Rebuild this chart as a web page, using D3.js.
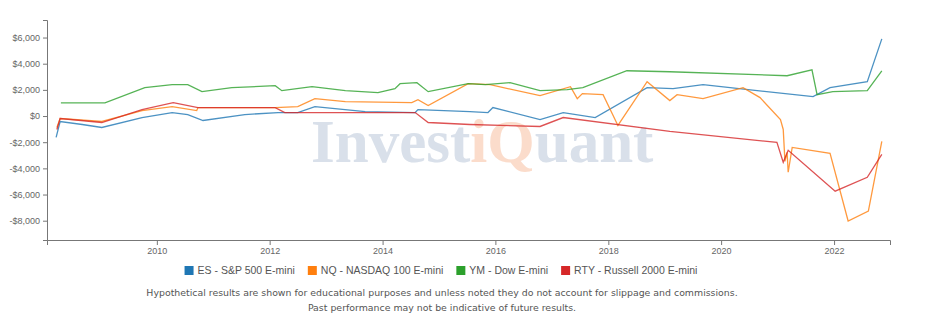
<!DOCTYPE html>
<html>
<head>
<meta charset="utf-8">
<script src="https://cdn.jsdelivr.net/npm/d3@7"></script>
<style>
  body { margin: 0; background: #fff; }
  svg text { font-family: "Liberation Sans", Arial, sans-serif; }
</style>
</head>
<body>
<script>
// series values: [date, P&L in dollars]
const esData = [
  ['2008-03-20', -1635], ['2008-04-15', -418], ['2008-09-05', -646], ['2009-01-10', -875],
  ['2009-09-27', -114], ['2010-04-10', 266], ['2010-07-20', 114], ['2010-10-27', -342],
  ['2011-07-24', 114], ['2012-02-24', 266], ['2012-07-01', 266], ['2012-10-20', 722],
  ['2013-09-10', 342], ['2014-07-31', 266], ['2014-08-18', 494], ['2015-07-20', 342],
  ['2015-11-14', 266], ['2015-12-16', 646], ['2016-10-16', -266], ['2017-03-15', 266],
  ['2017-10-08', -114], ['2018-09-09', 2167], ['2019-02-24', 2091], ['2019-09-06', 2396],
  ['2021-08-18', 1483], ['2021-12-06', 2167], ['2022-08-04', 2624], ['2022-11-06', 5900]
];
const nqData = [
  ['2008-03-25', -875], ['2008-04-15', -190], ['2009-01-10', -418], ['2009-09-27', 418],
  ['2010-04-10', 722], ['2010-09-16', 418], ['2010-09-24', 646], ['2012-02-06', 646],
  ['2012-07-01', 722], ['2012-10-20', 1331], ['2013-05-05', 1103], ['2014-07-09', 1027],
  ['2014-08-18', 1255], ['2014-10-23', 798], ['2015-07-09', 2472], ['2015-11-28', 2396],
  ['2016-10-16', 1559], ['2017-05-01', 2243], ['2017-06-14', 1331], ['2017-07-17', 1711],
  ['2017-11-28', 1635], ['2018-03-04', -722], ['2018-09-09', 2624], ['2019-02-03', 1179],
  ['2019-03-22', 1635], ['2019-09-06', 1331], ['2020-05-22', 2167], ['2020-09-09', 1407],
  ['2021-01-19', -266], ['2021-02-06', -1027], ['2021-02-17', -3460], ['2021-03-03', -2776],
  ['2021-03-10', -4297], ['2021-04-05', -2396], ['2021-12-06', -2852], ['2022-04-02', -8023],
  ['2022-08-11', -7263], ['2022-11-06', -1939]
];
const ymData = [
  ['2008-04-20', 1000], ['2009-01-30', 1000], ['2009-10-15', 2167], ['2010-04-10', 2396],
  ['2010-07-20', 2396], ['2010-10-20', 1863], ['2011-05-01', 2167], ['2012-02-06', 2320],
  ['2012-03-20', 1939], ['2012-10-01', 2243], ['2013-05-05', 1939], ['2013-12-02', 1787],
  ['2014-03-22', 2091], ['2014-04-24', 2472], ['2014-08-11', 2548], ['2014-10-23', 1863],
  ['2015-07-09', 2472], ['2015-10-27', 2396], ['2016-04-05', 2548], ['2016-10-16', 1939],
  ['2017-04-10', 2015], ['2017-07-20', 2167], ['2018-05-01', 3460], ['2019-02-03', 3384],
  ['2021-03-03', 3080], ['2021-08-11', 3536], ['2021-09-13', 1635], ['2021-12-24', 1863],
  ['2022-08-04', 1939], ['2022-11-06', 3460]
];
const rtyData = [
  ['2008-03-25', -1027], ['2008-04-15', -190], ['2009-01-10', -494], ['2009-09-27', 494],
  ['2010-04-17', 1027], ['2010-09-24', 646], ['2012-02-06', 646], ['2012-04-08', 266],
  ['2014-07-31', 266], ['2014-10-23', -494], ['2015-07-20', -646], ['2016-10-16', -798],
  ['2017-03-15', -114], ['2019-02-03', -1179], ['2020-12-27', -2015], ['2021-02-06', -3536],
  ['2021-03-10', -2624], ['2022-01-08', -5742], ['2022-08-04', -4677], ['2022-11-06', -2928]
];

const seriesNames = ['ES - S&P 500 E-mini', 'NQ - NASDAQ 100 E-mini', 'YM - Dow E-mini', 'RTY - Russell 2000 E-mini'];
const seriesColors = ['#1f77b4', '#ff7f0e', '#2ca02c', '#d62728'];
const yTicks = [-8000, -6000, -4000, -2000, 0, 2000, 4000, 6000];
const xTickYears = [2010, 2012, 2014, 2016, 2018, 2020, 2022];
const disclaimer = [
  'Hypothetical results are shown for educational purposes and unless noted they do not account for slippage and commissions.',
  'Past performance may not be indicative of future results.'
];

let width = 934, height = 332;
let margin = {top: 20, right: 44, bottom: 92, left: 47};
let parseDate = d3.timeParse('%Y-%m-%d');

let series = [esData, nqData, ymData, rtyData].map(function(rows, i) {
  return {
    name: seriesNames[i],
    color: seriesColors[i],
    values: rows.map(function(r) { return {date: parseDate(r[0]), value: r[1]}; })
  };
});

let svg = d3.select('body').append('svg')
  .attr('width', width)
  .attr('height', height);

let x = d3.scaleTime()
  .domain([parseDate('2008-01-21'), parseDate('2022-12-29')])
  .range([margin.left, width - margin.right]);

let y = d3.scaleLinear()
  .domain([-9475, 7340])
  .range([height - margin.bottom, margin.top]);

//Watermark behind the lines
let wm = svg.append('text')
  .attr('x', 311)
  .attr('y', 162)
  .style('font-family', '"Liberation Serif", "Times New Roman", serif')
  .style('font-size', '61px')
  .style('font-weight', 'bold');
wm.append('tspan').attr('fill', '#d9e0ea').text('Invest');
wm.append('tspan').attr('fill', '#fbdccb').text('iQ');
wm.append('tspan').attr('fill', '#d9e0ea').text('uant');

const moneyFmt = d3.format(',');
let yAxis = d3.axisLeft(y)
  .tickValues(yTicks)
  .tickSize(4)
  .tickPadding(3)
  .tickFormat(function(d) { return (d < 0 ? '-' : '') + '$' + moneyFmt(Math.abs(d)); });

let xAxis = d3.axisBottom(x)
  .tickValues(xTickYears.map(function(yr) { return new Date(yr, 0, 1); }))
  .tickSize(5)
  .tickPadding(3)
  .tickFormat(d3.timeFormat('%Y'));

let gy = svg.append('g')
  .attr('transform', 'translate(' + margin.left + ',0)')
  .call(yAxis);

let gx = svg.append('g')
  .attr('transform', 'translate(0,' + (height - margin.bottom) + ')')
  .call(xAxis);

[gx, gy].forEach(function(g) {
  g.select('.domain').attr('stroke', '#777');
  g.selectAll('.tick line').attr('stroke', '#777');
  g.selectAll('.tick text').attr('fill', '#666').style('font-size', '9px');
});

let line = d3.line()
  .x(function(d) { return x(d.date); })
  .y(function(d) { return y(d.value); });

svg.append('g')
  .selectAll('path')
  .data(series)
  .enter().append('path')
  .attr('d', function(d) { return line(d.values); })
  .attr('fill', 'none')
  .attr('stroke', function(d) { return d.color; })
  .attr('stroke-width', 1.3)
  .attr('stroke-opacity', 0.8);

//Legend, centred under the plot
let legend = svg.append('g').attr('class', 'legend');
let items = legend.selectAll('g')
  .data(series)
  .enter().append('g');

items.append('rect')
  .attr('width', 9)
  .attr('height', 9)
  .attr('y', 266)
  .attr('fill', function(d) { return d.color; });

items.append('text')
  .attr('x', 13)
  .attr('y', 274)
  .attr('fill', '#555')
  .style('font-size', '10.5px')
  .text(function(d) { return d.name; });

let cursor = 0;
items.each(function() {
  let w = this.getBBox().width;
  d3.select(this).attr('transform', 'translate(' + cursor + ',0)');
  cursor += w + 13;
});
let legendWidth = cursor - 13;
legend.attr('transform', 'translate(' + (441 - legendWidth / 2) + ',0)');

svg.append('g')
  .selectAll('text')
  .data(disclaimer)
  .enter().append('text')
  .attr('x', 442)
  .attr('y', function(d, i) { return 296 + i * 15; })
  .attr('text-anchor', 'middle')
  .attr('fill', '#555')
  .style('font-family', '"DejaVu Sans", Verdana, sans-serif')
  .style('font-size', '9.4px')
  .text(function(d) { return d; });
</script>
</body>
</html>
